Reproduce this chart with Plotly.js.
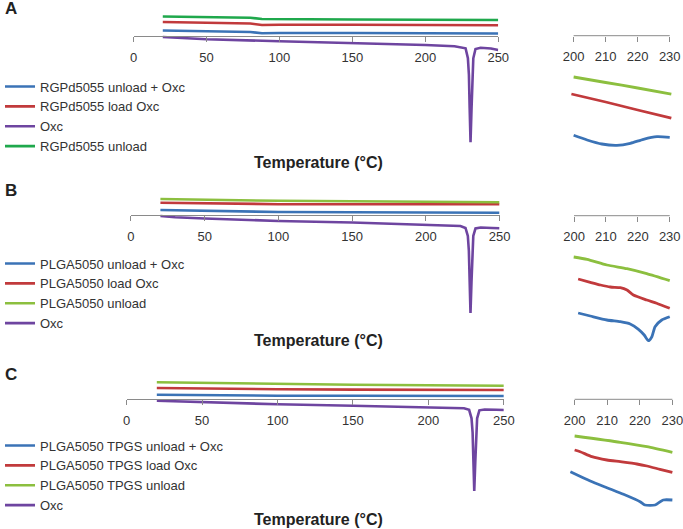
<!DOCTYPE html>
<html>
<head>
<meta charset="utf-8">
<script src="https://cdn.plot.ly/plotly-3.0.1.min.js"></script>
<style>html,body{margin:0;padding:0;background:#fff;}#chart{width:683px;height:529px;}</style>
</head>
<body>
<div id="chart"></div>
<script>
// ---------- DATA (temperature in °C, heat flow in arbitrary units, 0 = axis line) ----------
// Panel A main
const A_polyT = [20, 50, 80, 88, 100, 150, 200, 250];
const A_unload = [19.5, 19, 18.2, 17, 16.8, 16.5, 16.2, 16];
const A_loadOxc = [14, 13.2, 12.5, 11, 11.2, 11.2, 11, 10.7];
const A_unloadPlusOxc = [5.5, 5, 4, 2.8, 3, 3, 2.8, 2.5];
const A_oxcT = [20, 30, 50, 100, 150, 200, 220, 224.2, 227.6, 229.2, 229.9, 230.4, 231.0, 231.7, 232.2, 232.9, 234.4, 237.9, 245, 250];
const A_oxc = [-1, -2, -3.3, -5.2, -7, -9, -10.3, -11, -12.3, -22.3, -39, -72, -106.3, -72, -39, -22.3, -13, -11.7, -12.5, -14];
// Panel A inset
const iA_unloadT = [200, 210, 220, 230.5];
const iA_unload = [-41.3, -46.8, -52.3, -58.5];
const iA_loadT = [199.3, 210, 220, 230.5];
const iA_load = [-58.3, -66.3, -74.3, -82.5];
const iA_plusT = [200, 204.2, 208.8, 213.5, 217.7, 221.8, 226, 230];
const iA_plus = [-99.6, -104.3, -108.3, -109.6, -107.6, -103.6, -101, -101.6];

// Panel B main
const B_polyT = [20, 50, 70, 100, 150, 200, 250];
const B_unload = [16, 15.3, 14.6, 14.2, 13.7, 13.2, 12.7];
const B_loadOxc = [12.3, 11.8, 11, 10.8, 10.8, 10.7, 10.7];
const B_unloadPlusOxc = [5, 4, 3.3, 3, 2.8, 2.6, 2.3];
const B_oxcT = [20, 30, 50, 100, 150, 200, 220, 223.5, 226.9, 228.5, 229.2, 229.7, 230.3, 231.0, 231.5, 232.2, 233.7, 237.2, 245, 250];
const B_oxc = [-1, -2.2, -3.5, -6, -7.5, -9.5, -10.5, -11, -13, -21, -36, -66, -98, -66, -36, -21, -13.5, -12.5, -13, -13.3];
// Panel B inset
const iB_unloadT = [199.9, 204.1, 210.3, 216.6, 222.8, 230];
const iB_unload = [-41.3, -43.6, -49.3, -53, -58, -65];
const iB_loadT = [201.3, 205.1, 208.3, 211.4, 214.5, 216.6, 218.6, 222.8, 225.9, 230];
const iB_load = [-63.3, -66.6, -69.3, -71.3, -72, -74.3, -79.3, -84.3, -87.6, -92.6];
const iB_plusT = [201.3, 205.1, 210.3, 214.5, 217.6, 220.2, 222, 223.3, 224.4, 225.4, 227.5, 230];
const iB_plus = [-97.3, -100.3, -104.3, -106, -108.3, -113.6, -119.3, -125, -121, -111, -104.3, -101];

// Panel C main
const C_polyT = [20, 50, 100, 150, 200, 250];
const C_unload = [17, 16.3, 15.3, 14.5, 14, 13.6];
const C_loadOxc = [11.3, 10.6, 10, 9.7, 9.5, 9.3];
const C_unloadPlusOxc = [4.6, 4, 3.6, 3.5, 3.4, 3.3];
const C_oxcT = [20, 30, 50, 100, 150, 200, 220, 223.6, 227.0, 228.6, 229.3, 229.8, 230.4, 231.1, 231.6, 232.3, 233.8, 237.3, 245, 250];
const C_oxc = [-1.4, -1.9, -2.7, -5, -6.4, -7.7, -8.7, -9, -10.5, -19, -33, -62, -91.7, -62, -33, -19, -11, -10.2, -10.5, -10.7];
// Panel C inset
const iC_unloadT = [200, 214, 222.2, 230];
const iC_unload = [-36.7, -43, -47.4, -53];
const iC_loadT = [200, 201.7, 205.3, 209.9, 214, 219.1, 222.2, 226.2, 230];
const iC_load = [-50.7, -52.4, -57.4, -60.7, -62.4, -64.7, -66.7, -70, -73];
const iC_plusT = [198.7, 204.8, 209.9, 215, 220.1, 221.6, 224.7, 227.2, 230];
const iC_plus = [-72.4, -81.7, -88.4, -95, -102.4, -105.7, -105.7, -100.7, -100.7];

// Labels
const mainTicks = [0, 50, 100, 150, 200, 250];
const insetTicks = [200, 210, 220, 230];
const namesA = ["RGPd5055 unload + Oxc", "RGPd5055 load Oxc", "Oxc", "RGPd5055 unload"];
const namesB = ["PLGA5050 unload + Oxc", "PLGA5050 load Oxc", "PLGA5050 unload", "Oxc"];
const namesC = ["PLGA5050 TPGS unload + Oxc", "PLGA5050 TPGS load Oxc", "PLGA5050 TPGS unload", "Oxc"];
const panelLetters = ["A", "B", "C"];
const xTitle = "Temperature (°C)";

// ---------- STYLE ----------
const W = 683, H = 529;
const BLUE = "#3b73b6", RED = "#c13a3c", PURPLE = "#6e45a0", GREEN_A = "#1fa84c", GREEN_BC = "#8cbf3f";
const AXC = "#8a8a8a";
const FONT = "Liberation Sans, Arial, sans-serif";
const LW = 2.6;
const px = v => v / W;
const py = v => 1 - v / H;

function tr(x, y, name, color, xa, ya, legend, show) {
  return {x: x, y: y, name: name, type: "scatter", mode: "lines",
    line: {color: color, width: LW, shape: "linear"},
    xaxis: xa, yaxis: ya, legend: legend, showlegend: show, hoverinfo: "skip"};
}
function trS(x, y, color, xa, ya) {
  return {x: x, y: y, type: "scatter", mode: "lines",
    line: {color: color, width: 2.8, shape: "spline", smoothing: 0.6},
    xaxis: xa, yaxis: ya, showlegend: false, hoverinfo: "skip"};
}

const data = [
  // A main (legend order: blue, red, purple, green)
  tr(A_polyT, A_unloadPlusOxc, namesA[0], BLUE, "x", "y", "legend", true),
  tr(A_polyT, A_loadOxc, namesA[1], RED, "x", "y", "legend", true),
  tr(A_oxcT, A_oxc, namesA[2], PURPLE, "x", "y", "legend", true),
  tr(A_polyT, A_unload, namesA[3], GREEN_A, "x", "y", "legend", true),
  // A inset
  trS(iA_unloadT, iA_unload, GREEN_BC, "x2", "y2"),
  trS(iA_loadT, iA_load, RED, "x2", "y2"),
  trS(iA_plusT, iA_plus, BLUE, "x2", "y2"),
  // B main
  tr(B_polyT, B_unloadPlusOxc, namesB[0], BLUE, "x3", "y3", "legend2", true),
  tr(B_polyT, B_loadOxc, namesB[1], RED, "x3", "y3", "legend2", true),
  tr(B_polyT, B_unload, namesB[2], GREEN_BC, "x3", "y3", "legend2", true),
  tr(B_oxcT, B_oxc, namesB[3], PURPLE, "x3", "y3", "legend2", true),
  // B inset
  trS(iB_unloadT, iB_unload, GREEN_BC, "x4", "y4"),
  trS(iB_loadT, iB_load, RED, "x4", "y4"),
  trS(iB_plusT, iB_plus, BLUE, "x4", "y4"),
  // C main
  tr(C_polyT, C_unloadPlusOxc, namesC[0], BLUE, "x5", "y5", "legend3", true),
  tr(C_polyT, C_loadOxc, namesC[1], RED, "x5", "y5", "legend3", true),
  tr(C_polyT, C_unload, namesC[2], GREEN_BC, "x5", "y5", "legend3", true),
  tr(C_oxcT, C_oxc, namesC[3], PURPLE, "x5", "y5", "legend3", true),
  // C inset
  trS(iC_unloadT, iC_unload, GREEN_BC, "x6", "y6"),
  trS(iC_loadT, iC_load, RED, "x6", "y6"),
  trS(iC_plusT, iC_plus, BLUE, "x6", "y6")
];

function xax(domain, range, ticks, posPx, showline) {
  return {domain: domain, range: range, anchor: "free", position: py(posPx),
    showgrid: false, zeroline: false, showline: showline, linecolor: AXC, linewidth: 1,
    ticks: "outside", ticklen: 5, tickwidth: 1, tickcolor: AXC,
    tickvals: ticks, ticktext: ticks.map(String), ticklabelstandoff: 4,
    ticklabeloverflow: "allow",
    tickfont: {family: FONT, size: 13, color: "#333"}, fixedrange: true};
}
function yax(domTopPx, domBotPx, axisPx, anchorX) {
  return {domain: [py(domBotPx), py(domTopPx)], range: [axisPx - domBotPx, axisPx - domTopPx],
    visible: false, anchor: anchorX, fixedrange: true};
}
function legendAt(topPx) {
  return {x: px(-2), xanchor: "left", y: py(topPx), yanchor: "top", bgcolor: "rgba(0,0,0,0)",
    borderwidth: 0, font: {family: FONT, size: 13, color: "#333"}, tracegroupgap: 0,
    traceorder: "normal"};
}

const layout = {
  width: W, height: H, margin: {l: 0, r: 0, t: 0, b: 0},
  paper_bgcolor: "#fff", plot_bgcolor: "rgba(0,0,0,0)",
  font: {family: FONT},
  // A
  xaxis: xax([px(132), px(497.7)], [0, 250], mainTicks, 36, true),
  yaxis: yax(8, 150, 36, "x"),
  xaxis2: xax([px(568.5), px(672.9)], [198.5, 231], insetTicks, 35.7, false),
  yaxis2: yax(15, 160, 35.7, "x2"),
  // B
  xaxis3: xax([px(129.3), px(499)], [0, 250], mainTicks, 215, true),
  yaxis3: yax(188, 325, 215, "x3"),
  xaxis4: xax([px(568.9), px(672.9)], [198.5, 231], insetTicks, 215.7, false),
  yaxis4: yax(195, 345, 215.7, "x4"),
  // C
  xaxis5: xax([px(125), px(503.3)], [0, 250], mainTicks, 399.3, true),
  yaxis5: yax(372, 500, 399.3, "x5"),
  xaxis6: xax([px(569.4), px(675.6)], [198.5, 231], insetTicks, 399.3, false),
  yaxis6: yax(375, 515, 399.3, "x6"),
  legend: legendAt(71.5),
  legend2: legendAt(248.5),
  legend3: legendAt(430.5),
  shapes: [
    {type: "line", xref: "x2", yref: "y2", x0: 200, x1: 230, y0: 0, y1: 0, line: {color: AXC, width: 1}},
    {type: "line", xref: "x4", yref: "y4", x0: 200, x1: 230, y0: 0, y1: 0, line: {color: AXC, width: 1}},
    {type: "line", xref: "x6", yref: "y6", x0: 200, x1: 230, y0: 0, y1: 0, line: {color: AXC, width: 1}}
  ],
  annotations: [
    {text: panelLetters[0], x: px(1), y: py(8), xref: "paper", yref: "paper", xanchor: "left", yanchor: "middle", showarrow: false, font: {family: FONT, size: 17, color: "#222", weight: "bold"}},
    {text: panelLetters[1], x: px(1), y: py(190), xref: "paper", yref: "paper", xanchor: "left", yanchor: "middle", showarrow: false, font: {family: FONT, size: 17, color: "#222", weight: "bold"}},
    {text: panelLetters[2], x: px(1), y: py(374), xref: "paper", yref: "paper", xanchor: "left", yanchor: "middle", showarrow: false, font: {family: FONT, size: 17, color: "#222", weight: "bold"}},
    {text: "<b>" + xTitle + "</b>", x: px(317.5), y: py(162), xref: "paper", yref: "paper", xanchor: "center", yanchor: "middle", showarrow: false, font: {family: FONT, size: 16, color: "#222"}},
    {text: "<b>" + xTitle + "</b>", x: px(317.5), y: py(340), xref: "paper", yref: "paper", xanchor: "center", yanchor: "middle", showarrow: false, font: {family: FONT, size: 16, color: "#222"}},
    {text: "<b>" + xTitle + "</b>", x: px(317.5), y: py(519), xref: "paper", yref: "paper", xanchor: "center", yanchor: "middle", showarrow: false, font: {family: FONT, size: 16, color: "#222"}}
  ]
};

Plotly.newPlot("chart", data, layout, {displayModeBar: false, staticPlot: true});
</script>
</body>
</html>
